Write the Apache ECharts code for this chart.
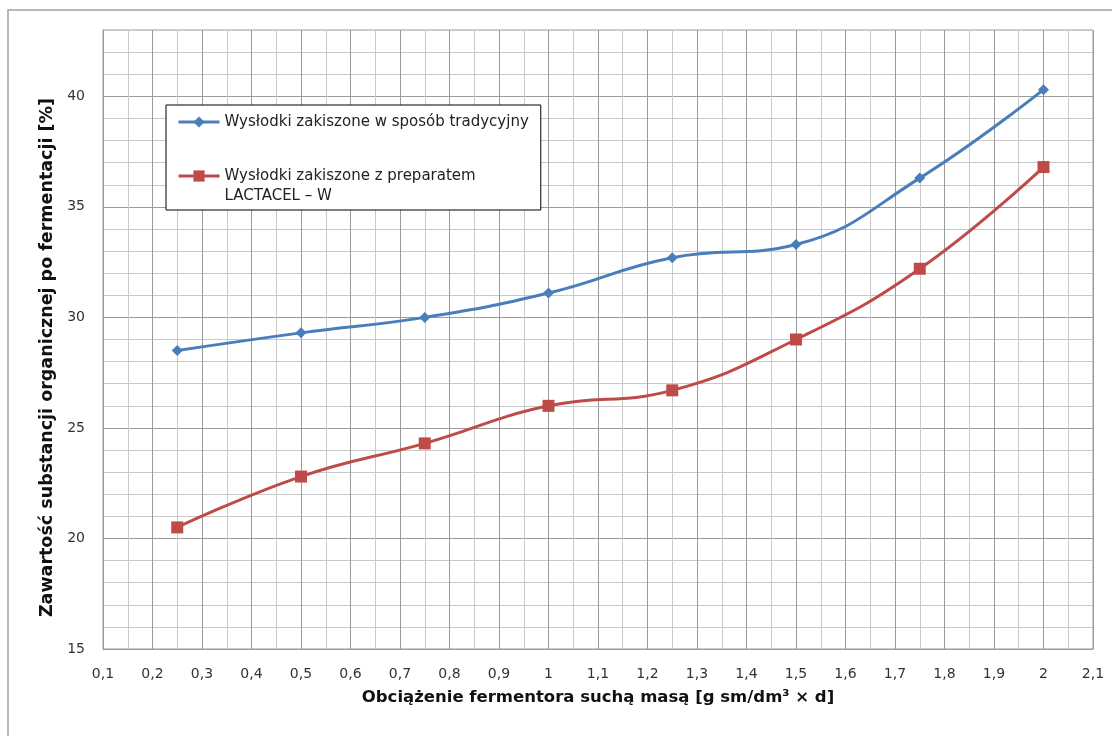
<!DOCTYPE html>
<html>
<head>
<meta charset="utf-8">
<script src="https://cdn.jsdelivr.net/npm/echarts@6/dist/echarts.min.js"></script>
<style>html,body{margin:0;padding:0;background:#fff}#c{width:1112px;height:736px}</style>
</head>
<body>
<div id="c"></div>
<script>
// ---- data ----
const xValues = [0.25, 0.5, 0.75, 1.0, 1.25, 1.5, 1.75, 2.0];
const traditional = [28.5, 29.3, 30.0, 31.1, 32.7, 33.3, 36.3, 40.3];
const lactacel = [20.5, 22.8, 24.3, 26.0, 26.7, 29.0, 32.2, 36.8];
const seriesNames = ['Wysłodki zakiszone w sposób tradycyjny', 'Wysłodki zakiszone z preparatem LACTACEL – W'];
const xAxisTitle = 'Obciążenie fermentora suchą masą [g sm/dm³ × d]';
const yAxisTitle = 'Zawartość substancji organicznej po fermentacji [%]';

const FONT = '"DejaVu Sans", sans-serif';
const pair = (ys) => xValues.map((x, i) => [x, ys[i]]);
const dark = '#9a9a9a', light = '#c9c9c9';

const chart = echarts.init(document.getElementById('c'), null, {renderer: 'canvas'});
chart.setOption({
  animation: false,
  backgroundColor: '#fff',
  graphic: [{
    type: 'rect', z: -10, silent: true,
    shape: {x: 8, y: 10, width: 1130, height: 760},
    style: {fill: 'none', stroke: '#a0a0a0', lineWidth: 1.5}
  }],
  grid: {left: 103, top: 30, right: 19, bottom: 87, show: true, borderColor: dark, borderWidth: 1},
  legend: {
    orient: 'vertical', left: 166, top: 105,
    padding: [7, 12, 4, 11], itemGap: 14,
    itemWidth: 41, itemHeight: 14,
    backgroundColor: '#fff', borderColor: '#000', borderWidth: 1,
    lineStyle: {width: 3},
    textStyle: {fontFamily: FONT, fontSize: 15, color: '#222', lineHeight: 20},
    formatter: function (name) {
      if (name === seriesNames[1]) return ' \nWysłodki zakiszone z preparatem\nLACTACEL – W';
      return name;
    },
    data: seriesNames
  },
  xAxis: {
    type: 'value', min: 0.1, max: 2.1, interval: 0.05,
    name: xAxisTitle, nameLocation: 'middle', nameGap: 40,
    nameTextStyle: {fontFamily: FONT, fontSize: 16.5, fontWeight: 'bold', color: '#111'},
    axisLine: {show: true, lineStyle: {color: dark}},
    axisTick: {show: false},
    axisLabel: {
      margin: 18, fontFamily: FONT, fontSize: 14, color: '#333',
      formatter: function (v) {
        const t = v * 10;
        if (Math.abs(t - Math.round(t)) > 1e-6) return '';
        return String(Math.round(t) / 10).replace('.', ',');
      }
    },
    splitLine: {show: true, lineStyle: {color: [dark, light], width: 1}}
  },
  yAxis: {
    type: 'value', min: 15, max: 43, interval: 1,
    name: yAxisTitle, nameLocation: 'middle', nameGap: 47,
    nameTextStyle: {fontFamily: FONT, fontSize: 17.5, fontWeight: 'bold', color: '#111', padding: [0, 36, 0, 0]},
    axisLine: {show: true, lineStyle: {color: dark}},
    axisTick: {show: false},
    axisLabel: {
      margin: 18, fontFamily: FONT, fontSize: 14, color: '#333',
      formatter: v => (Math.round(v) % 5 === 0 && v <= 40) ? String(Math.round(v)) : ''
    },
    splitLine: {show: true, lineStyle: {color: [dark, light, light, light, light], width: 1}}
  },
  series: [
    {
      name: seriesNames[0], type: 'line', data: pair(traditional), smooth: 0.45,
      symbol: 'diamond', symbolSize: 11,
      lineStyle: {color: '#4a7ebb', width: 3},
      itemStyle: {color: '#4a7ebb'}
    },
    {
      name: seriesNames[1], type: 'line', data: pair(lactacel), smooth: 0.45,
      symbol: 'rect', symbolSize: 12,
      lineStyle: {color: '#be4b48', width: 3},
      itemStyle: {color: '#be4b48'}
    }
  ]
});
</script>
</body>
</html>
